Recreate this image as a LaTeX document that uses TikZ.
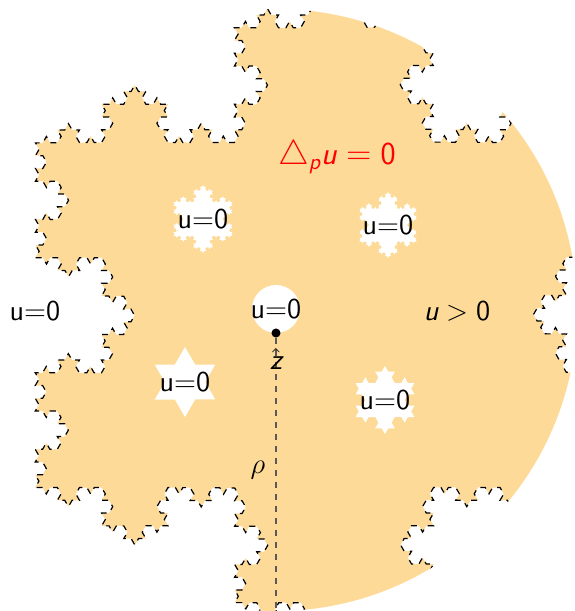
\documentclass[tikz,border=0pt]{standalone}
\usepackage{amsmath}
\usetikzlibrary{
  decorations.fractals,
  positioning
}
\definecolor{domaincolor}{RGB}{253,218,151}
\newcommand{\sfvar}[1]{\textit{#1}}
\tikzset{
  domain fill/.style={fill=domaincolor},
  hole fill/.style={fill=white},
  koch edge/.style={draw=black,dashed,line width=0.6pt},
  label text/.style={font=\sffamily\Large},
  radius line/.style={draw=black!65,dashed,line width=0.8pt}
}
\begin{document}
\begin{tikzpicture}[x=0.5pt,y=-0.5pt,decoration=Koch snowflake]
	\useasboundingbox (0,0) rectangle (574,611);
	\coordinate (O) at (276,310);
	\coordinate (K) at (334,315);
	\coordinate (F1) at (203,219);
	\coordinate (F2) at (388,225);
	\coordinate (F3) at (385,400);
	\coordinate (S) at (185,382);
	\coordinate (C) at (276,309);
	% domain: disk cut by the big snowflake
	\begin{scope}
		\clip (O) circle[radius=301];
		\path[domain fill,koch edge,shift={(K)}] decorate{decorate{decorate{decorate{
			(90:345) -- (210:345) -- (330:345) -- cycle}}}};
	\end{scope}
	% holes
	\fill[hole fill,shift={(F1)}] decorate{decorate{decorate{
		(90:34) -- (210:34) -- (330:34) -- cycle}}};
	\fill[hole fill,shift={(F2)}] decorate{decorate{decorate{
		(90:33) -- (210:33) -- (330:33) -- cycle}}};
	\fill[hole fill,shift={(F3)}] decorate{decorate{
		(90:34) -- (210:34) -- (330:34) -- cycle}};
	\fill[hole fill,shift={(S)}] decorate{
		(90:35) -- (210:35) -- (330:35) -- cycle};
	\fill[hole fill] (C) circle[radius=24];
	\node[label text] (u1) at (F1) {u=0};
	\node[label text] (u2) at (F2) {u=0};
	\node[label text] (u3) at (F3) {u=0};
	\node[label text] (u4) at (S) {u=0};
	\node[label text] (u5) at (C) {u=0};
	\node[label text] (uleft) at (35,311) {u=0};
	\node[label text] (upos) at (457,311) {$\sfvar{u}>\textsf{0}$};
	\node[font=\sffamily\fontsize{16}{18}\selectfont,text=red] (plap) at (337,157) {$\triangle_{\sfvar{p}}\sfvar{u}=\textsf{0}$};
	\node[circle,fill,inner sep=1.6pt] (z) at (276,333) {};
	\coordinate (B) at (276,611);
	\draw[radius line] (z) -- (B);
	\node[label text,below=2pt of z] (zlabel) {$\hat{\sfvar{z}}$};
	\node[label text] (rho) at (258,470) {$\rho$};
\end{tikzpicture}
\end{document}
